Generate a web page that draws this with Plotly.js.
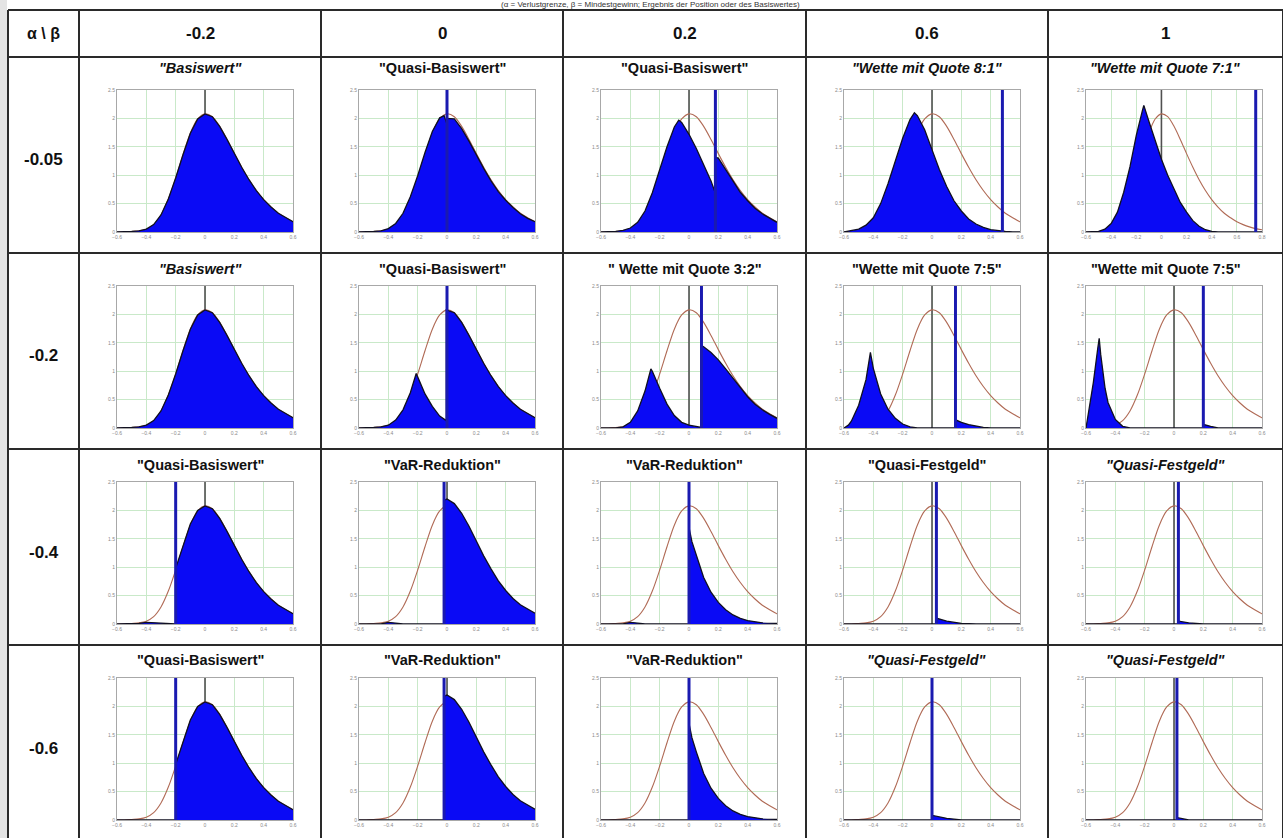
<!DOCTYPE html>
<html>
<head>
<meta charset="utf-8">
<script src="https://cdn.plot.ly/plotly-3.0.1.min.js"></script>
<style>
html,body{margin:0;padding:0;background:#ffffff;}
#chart{width:1283px;height:838px;}
</style>
</head>
<body>
<div id="chart"></div>
<script>
// ---------------- DATA ----------------
const betaLabels = ["-0.2", "0", "0.2", "0.6", "1"];
const alphaLabels = ["-0.05", "-0.2", "-0.4", "-0.6"];
const cornerLabel = "α \\ β";
const topTitle = "(α = Verlustgrenze, β = Mindestgewinn; Ergebnis der Position oder des Basiswertes)";

const titles = [
  ['"Basiswert"', '"Quasi-Basiswert"', '"Quasi-Basiswert"', '"Wette mit Quote 8:1"', '"Wette mit Quote 7:1"'],
  ['"Basiswert"', '"Quasi-Basiswert"', '" Wette mit Quote 3:2"', '"Wette mit Quote 7:5"', '"Wette mit Quote 7:5"'],
  ['"Quasi-Basiswert"', '"VaR-Reduktion"', '"VaR-Reduktion"', '"Quasi-Festgeld"', '"Quasi-Festgeld"'],
  ['"Quasi-Basiswert"', '"VaR-Reduktion"', '"VaR-Reduktion"', '"Quasi-Festgeld"', '"Quasi-Festgeld"']
];
const titleItalic = [
  [true, false, false, true, true],
  [true, false, false, false, false],
  [false, false, false, false, true],
  [false, false, false, true, true]
];

// reference density of the underlying (brown curve)
const baseX = [-0.6,-0.55,-0.5,-0.45,-0.4,-0.35,-0.3,-0.25,-0.2,-0.15,-0.1,-0.05,0,0.05,0.1,0.15,0.2,0.25,0.3,0.35,0.4,0.45,0.5,0.55,0.6,0.65,0.7,0.75,0.8];
const baseY = [0,0,0.01,0.02,0.05,0.13,0.30,0.58,0.95,1.36,1.74,1.99,2.08,2.03,1.86,1.63,1.38,1.14,0.92,0.73,0.57,0.44,0.33,0.25,0.18,0.13,0.09,0.06,0.04];

// blue densities of the strategies
const r1c2X = [-0.6,-0.55,-0.5,-0.45,-0.4,-0.35,-0.3,-0.25,-0.2,-0.15,-0.1,-0.05,-0.02,0,0,0.05,0.1,0.15,0.2,0.25,0.3,0.35,0.4,0.45,0.5,0.55,0.6];
const r1c2Y = [0,0,0.01,0.02,0.06,0.15,0.33,0.62,0.99,1.40,1.77,2.01,2.05,1.90,2.00,1.99,1.82,1.60,1.35,1.12,0.90,0.71,0.56,0.43,0.32,0.24,0.18];
const r1c3X = [-0.6,-0.55,-0.5,-0.45,-0.4,-0.35,-0.3,-0.25,-0.2,-0.15,-0.1,-0.07,-0.05,0,0.05,0.1,0.15,0.175,0.175,0.2,0.25,0.3,0.35,0.4,0.45,0.5,0.55,0.6];
const r1c3Y = [0,0,0.01,0.03,0.07,0.17,0.37,0.69,1.09,1.50,1.85,1.97,1.93,1.72,1.47,1.20,0.90,0.72,1.32,1.30,1.10,0.89,0.70,0.55,0.42,0.32,0.24,0.17];
const r1c4X = [-0.6,-0.55,-0.5,-0.45,-0.4,-0.35,-0.3,-0.25,-0.2,-0.15,-0.12,-0.1,-0.05,0,0.05,0.1,0.15,0.2,0.25,0.3,0.35,0.4,0.45,0.5,0.55,0.6];
const r1c4Y = [0,0.02,0.05,0.12,0.25,0.50,0.85,1.25,1.65,1.98,2.10,2.05,1.80,1.45,1.10,0.80,0.55,0.37,0.23,0.14,0.08,0.04,0.02,0.01,0,0];
const r1c5X = [-0.6,-0.55,-0.5,-0.45,-0.4,-0.35,-0.3,-0.25,-0.2,-0.15,-0.14,-0.1,-0.05,0,0.05,0.1,0.15,0.2,0.25,0.3,0.35,0.4,0.45,0.8];
const r1c5Y = [0,0,0.01,0.05,0.15,0.35,0.70,1.15,1.70,2.15,2.23,1.95,1.60,1.28,1.00,0.75,0.52,0.35,0.20,0.10,0.04,0.01,0,0];

const r2c2X = [-0.6,-0.55,-0.5,-0.45,-0.4,-0.35,-0.3,-0.25,-0.21,-0.2,-0.15,-0.1,-0.05,-0.005,-0.005,0.05,0.1,0.15,0.2,0.25,0.3,0.35,0.4,0.45,0.5,0.55,0.6];
const r2c2Y = [0,0,0.01,0.02,0.05,0.14,0.32,0.62,0.96,0.90,0.60,0.38,0.21,0.13,2.08,2.03,1.86,1.63,1.38,1.14,0.92,0.73,0.57,0.44,0.33,0.25,0.18];
const r2c3X = [-0.6,-0.5,-0.45,-0.4,-0.35,-0.3,-0.26,-0.25,-0.2,-0.15,-0.1,-0.05,0,0.05,0.085,0.085,0.1,0.15,0.2,0.25,0.3,0.35,0.4,0.45,0.5,0.55,0.6];
const r2c3Y = [0,0,0.02,0.10,0.30,0.65,1.04,1.00,0.70,0.42,0.22,0.10,0.05,0.02,0.01,1.45,1.43,1.33,1.20,1.04,0.87,0.70,0.55,0.42,0.32,0.24,0.17];
const r2c4X = [-0.6,-0.57,-0.55,-0.5,-0.45,-0.42,-0.4,-0.35,-0.3,-0.25,-0.2,-0.15,-0.1,0.16,0.165,0.2,0.25,0.3,0.35,0.4,0.6];
const r2c4Y = [0,0.05,0.12,0.40,0.85,1.33,1.05,0.60,0.33,0.17,0.07,0.02,0,0,0.14,0.10,0.06,0.03,0.01,0,0];
const r2c5X = [-0.6,-0.58,-0.55,-0.52,-0.51,-0.5,-0.47,-0.45,-0.4,-0.35,-0.3,0.2,0.205,0.25,0.3,0.6];
const r2c5Y = [0,0.30,0.80,1.40,1.58,1.30,0.70,0.45,0.15,0.03,0,0,0.06,0.03,0,0];

const r3c1X = [-0.6,-0.5,-0.45,-0.4,-0.35,-0.3,-0.25,-0.2,-0.2,-0.15,-0.1,-0.05,0,0.05,0.1,0.15,0.2,0.25,0.3,0.35,0.4,0.45,0.5,0.55,0.6];
const r3c1Y = [0,0,0.01,0.03,0.02,0.01,0,0,0.98,1.38,1.76,2.00,2.08,2.03,1.86,1.63,1.38,1.14,0.92,0.73,0.57,0.44,0.33,0.25,0.18];
const r3c2X = [-0.6,-0.45,-0.4,-0.35,-0.3,-0.02,-0.02,0,0.05,0.1,0.15,0.2,0.25,0.3,0.35,0.4,0.45,0.5,0.55,0.6];
const r3c2Y = [0,0,0.03,0.02,0,0,2.18,2.20,2.12,1.95,1.72,1.46,1.20,0.97,0.76,0.59,0.45,0.34,0.26,0.19];
const r3c3X = [-0.6,-0.45,-0.4,-0.35,-0.3,0,0,0.02,0.05,0.1,0.15,0.2,0.25,0.3,0.35,0.4,0.5,0.6];
const r3c3Y = [0,0,0.03,0.02,0,0,1.70,1.45,1.20,0.82,0.56,0.38,0.25,0.16,0.10,0.06,0.02,0.01];
const r3c4X = [-0.6,0.03,0.035,0.1,0.2,0.3,0.6];
const r3c4Y = [0,0,0.10,0.05,0.01,0,0];
const r3c5X = [-0.6,0.03,0.035,0.1,0.2,0.6];
const r3c5Y = [0,0,0.05,0.02,0,0];

const r4c1X = [-0.6,-0.2,-0.2,-0.15,-0.1,-0.05,0,0.05,0.1,0.15,0.2,0.25,0.3,0.35,0.4,0.45,0.5,0.55,0.6];
const r4c1Y = [0,0,0.98,1.38,1.76,2.00,2.08,2.03,1.86,1.63,1.38,1.14,0.92,0.73,0.57,0.44,0.33,0.25,0.18];
const r4c2X = [-0.6,-0.02,-0.02,0,0.05,0.1,0.15,0.2,0.25,0.3,0.35,0.4,0.45,0.5,0.55,0.6];
const r4c2Y = [0,0,2.18,2.20,2.12,1.95,1.72,1.46,1.20,0.97,0.76,0.59,0.45,0.34,0.26,0.19];
const r4c3X = [-0.6,0,0,0.02,0.05,0.1,0.15,0.2,0.25,0.3,0.35,0.4,0.5,0.6];
const r4c3Y = [0,0,1.70,1.45,1.20,0.82,0.56,0.38,0.25,0.16,0.10,0.06,0.02,0.01];
const r4c4X = [-0.6,0.0,0.005,0.1,0.2,0.6];
const r4c4Y = [0,0,0.08,0.03,0,0];
const r4c5X = [-0.6,0.02,0.025,0.1,0.6];
const r4c5Y = [0,0,0.04,0,0];

const blueX = [
  [baseX, r1c2X, r1c3X, r1c4X, r1c5X],
  [baseX, r2c2X, r2c3X, r2c4X, r2c5X],
  [r3c1X, r3c2X, r3c3X, r3c4X, r3c5X],
  [r4c1X, r4c2X, r4c3X, r4c4X, r4c5X]
];
const blueY = [
  [baseY, r1c2Y, r1c3Y, r1c4Y, r1c5Y],
  [baseY, r2c2Y, r2c3Y, r2c4Y, r2c5Y],
  [r3c1Y, r3c2Y, r3c3Y, r3c4Y, r3c5Y],
  [r4c1Y, r4c2Y, r4c3Y, r4c4Y, r4c5Y]
];
// position of the point mass (blue spike) of each strategy, null = none
const spikeX = [
  [null, 0, 0.18, 0.48, 0.75],
  [null, 0, 0.085, 0.16, 0.2],
  [-0.2, -0.02, 0, 0.03, 0.03],
  [-0.2, -0.02, 0, 0.0, 0.02]
];
const xMax = [
  [0.6, 0.6, 0.6, 0.6, 0.8],
  [0.6, 0.6, 0.6, 0.6, 0.6],
  [0.6, 0.6, 0.6, 0.6, 0.6],
  [0.6, 0.6, 0.6, 0.6, 0.6]
];
const xMin = -0.6;
const yMax = 2.5;

// ---------------- LAYOUT ----------------
const W = 1283, H = 838;
const px = v => v / W;
const py = v => 1 - v / H;
const colEdges = [8, 79, 321, 563, 806, 1048, 1283];
const rowEdges = [10, 57, 253, 449, 645, 845];
const titleOffset = [11, 16, 16, 15];
const PLOT_L = 38, PLOT_W = 176, PLOT_T = 33, PLOT_H = 142;

const FONT = "Liberation Sans, Arial, sans-serif";
const traces = [];
const layout = {
  width: W, height: H,
  margin: {l: 0, r: 0, t: 0, b: 0},
  paper_bgcolor: "#ffffff",
  plot_bgcolor: "#ffffff",
  showlegend: false,
  shapes: [],
  annotations: []
};

let k = 0;
for (let r = 0; r < 4; r++) {
  for (let c = 0; c < 5; c++) {
    k++;
    const xa = k === 1 ? "x" : "x" + k;
    const ya = k === 1 ? "y" : "y" + k;
    const xk = k === 1 ? "xaxis" : "xaxis" + k;
    const yk = k === 1 ? "yaxis" : "yaxis" + k;
    const left = colEdges[c + 1] + PLOT_L;
    const top = rowEdges[r + 1] + PLOT_T;
    layout[xk] = {
      domain: [px(left), px(left + PLOT_W)],
      anchor: ya, range: [xMin, xMax[r][c]],
      dtick: 0.2, tick0: 0,
      showgrid: true, gridcolor: "#c9e9c9", gridwidth: 1,
      zeroline: false, showline: true, mirror: true, linecolor: "#a8a8a8", linewidth: 1,
      ticks: "", tickfont: {size: 5, color: "#8a8a8a", family: FONT},
      fixedrange: true
    };
    layout[yk] = {
      domain: [py(top + PLOT_H), py(top)],
      anchor: xa, range: [0, yMax],
      dtick: 0.5, tick0: 0,
      showgrid: true, gridcolor: "#c9e9c9", gridwidth: 1,
      zeroline: false, showline: true, mirror: true, linecolor: "#a8a8a8", linewidth: 1,
      ticks: "", tickfont: {size: 5, color: "#8a8a8a", family: FONT},
      fixedrange: true
    };
    // reference line at 0
    traces.push({x: [0, 0], y: [0, yMax], xaxis: xa, yaxis: ya, mode: "lines",
      line: {color: "#505050", width: 1.6}, hoverinfo: "skip"});
    // reference density (brown)
    traces.push({x: baseX, y: baseY, xaxis: xa, yaxis: ya, mode: "lines",
      line: {color: "#b06a55", width: 1.1, shape: "spline", smoothing: 0.8}, hoverinfo: "skip"});
    // strategy density (blue fill)
    traces.push({x: blueX[r][c], y: blueY[r][c], xaxis: xa, yaxis: ya, mode: "lines",
      fill: "tozeroy", fillcolor: "#0a0af5",
      line: {color: "#101020", width: 1.3}, hoverinfo: "skip"});
    // point mass spike
    if (spikeX[r][c] !== null) {
      traces.push({x: [spikeX[r][c], spikeX[r][c]], y: [0, yMax], xaxis: xa, yaxis: ya, mode: "lines",
        line: {color: "#1a1ab0", width: 3}, hoverinfo: "skip"});
    }
    // panel title
    const t = titles[r][c];
    layout.annotations.push({
      xref: "paper", yref: "paper",
      x: px((colEdges[c + 1] + colEdges[c + 2]) / 2), y: py(rowEdges[r + 1] + titleOffset[r]),
      xanchor: "center", yanchor: "middle", showarrow: false,
      text: titleItalic[r][c] ? "<b><i>" + t + "</i></b>" : "<b>" + t + "</b>",
      font: {size: 14.5, color: "#111111", family: FONT}
    });
  }
}

// header texts
layout.annotations.push({xref: "paper", yref: "paper", x: px((colEdges[0] + colEdges[1]) / 2),
  y: py((rowEdges[0] + rowEdges[1]) / 2), showarrow: false, xanchor: "center", yanchor: "middle",
  text: "<b>" + cornerLabel + "</b>", font: {size: 16, color: "#111", family: FONT}});
for (let c = 0; c < 5; c++) {
  layout.annotations.push({xref: "paper", yref: "paper", x: px((colEdges[c + 1] + colEdges[c + 2]) / 2),
    y: py((rowEdges[0] + rowEdges[1]) / 2), showarrow: false, xanchor: "center", yanchor: "middle",
    text: "<b>" + betaLabels[c] + "</b>", font: {size: 17, color: "#111", family: FONT}});
}
for (let r = 0; r < 4; r++) {
  layout.annotations.push({xref: "paper", yref: "paper", x: px((colEdges[0] + colEdges[1]) / 2),
    y: py(rowEdges[r + 1] + 103), showarrow: false, xanchor: "center", yanchor: "middle",
    text: "<b>" + alphaLabels[r] + "</b>", font: {size: 17, color: "#111", family: FONT}});
}
// title at the top (kept fully visible, small)
layout.annotations.push({xref: "paper", yref: "paper", x: px(650), y: py(5), showarrow: false,
  xanchor: "center", yanchor: "middle", text: topTitle, font: {size: 8, color: "#333", family: FONT}});

// gray strip at left edge
layout.shapes.push({type: "rect", xref: "paper", yref: "paper", x0: 0, x1: px(7), y0: 0, y1: 1,
  fillcolor: "#e4e4e4", line: {width: 0}, layer: "below"});
// table lines
for (const x of colEdges) {
  layout.shapes.push({type: "line", xref: "paper", yref: "paper", x0: px(x), x1: px(x),
    y0: py(rowEdges[0]), y1: 0, line: {color: "#2a2a2a", width: 2}});
}
for (const y of rowEdges.slice(0, 5)) {
  layout.shapes.push({type: "line", xref: "paper", yref: "paper", x0: px(colEdges[0]), x1: 1,
    y0: py(y), y1: py(y), line: {color: "#2a2a2a", width: 2}});
}

Plotly.newPlot("chart", traces, layout, {displayModeBar: false, staticPlot: true});
</script>
</body>
</html>
